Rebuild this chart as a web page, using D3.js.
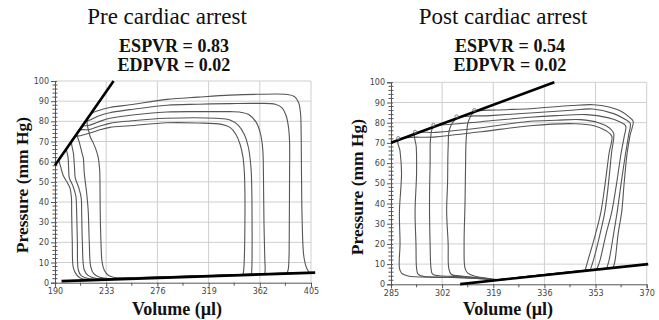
<!DOCTYPE html>
<meta charset="utf-8">
<script src="https://d3js.org/d3.v7.js"></script>
<style>
  body { margin: 0; background: #fff; }
  .tick text { font-family: "DejaVu Sans", sans-serif; font-size: 8px; fill: #444; }
  .ttl { font-family: "Liberation Serif", "Times New Roman", serif; fill: #111; text-anchor: middle; }
</style>
<body>
<div id="chart"></div>
<script>
// ---- data (volume in µl, pressure in mm Hg) ----
const preTicksX = [190, 233, 276, 319, 362, 405];
const postTicksX = [285, 302, 319, 336, 353, 370];
const ticksY = [0, 10, 20, 30, 40, 50, 60, 70, 80, 90, 100];

// pre cardiac arrest loops, outer to inner
const preLoop1 = [[403.5,5.2],[401.5,7],[399,13],[397.6,30],[397,55],[396.7,75],[396.2,84],[394.5,89.5],[391,92.3],[385,93.3],[360,93.4],[337,93],[310,92],[284,90.9],[253,88.2],[236,86.9],[226,85.3],[220.5,83.8],[217.5,81.3],[217,78.5],[218,76],[219.5,72.5],[222.2,69.2],[225,65],[226.4,61.8],[227.5,56],[227.8,48],[228,34.5],[228.6,20],[229.6,10],[231.5,6],[235,3.6],[240,2.6],[246,2.3],[270,2.6],[310,3.3],[350,4.2],[380,4.7],[403.5,5.2]];
const preLoop2 = [[385,4.8],[386,7],[386.5,12],[386.8,30],[387,55],[387,70],[386,77.5],[384,83],[380.5,86.8],[375,88.5],[360,88.9],[337,88.8],[310,88.5],[284,88],[253,85.8],[236,84.3],[226,82.5],[220,80.8],[215.5,79.6],[212,76.9],[208.5,73.9],[210.5,69.5],[212.8,64],[213.8,61.8],[214.5,55],[215,52],[216.5,45],[217.6,38],[218,34.5],[218.8,20],[220,8],[222.5,4.5],[227,2.8],[234.5,2.1],[260,2.4],[300,3.1],[340,3.9],[385,4.8]];
const preLoop3 = [[366.3,4.3],[366.5,7],[366.2,12],[365.5,30],[365.2,45],[365,56],[364.5,66],[362.5,74],[359,79.5],[353,83.3],[345,84.6],[337,84.8],[310,84.8],[284,84.6],[253,83],[236,81.5],[226,79.6],[218,77.9],[213,77.6],[208,73.5],[204,70.1],[205.5,64],[206.5,56],[207,52],[210,47],[212,42],[212.4,34.5],[213,20],[214.6,6.3],[218,3.5],[225,2.1],[260,2.6],[300,3.3],[340,3.9],[366.3,4.3]];
const preLoop4 = [[355,4.1],[355.3,7],[355.5,12],[355.5,30],[355.3,45],[354.6,57],[352.3,67.4],[349,73.5],[344,78],[337,80.7],[325,81.5],[284,81.5],[253,80.2],[236,79],[226,77.3],[218,75.8],[213.5,75.9],[210.5,75.5],[206,71.8],[202,68.4],[199.8,66.5],[201,62],[201.5,56],[202,52],[205,48],[207.5,43],[208.2,34.5],[208.8,20],[209.6,6.3],[212,3.5],[219.4,1.9],[260,2.5],[300,3.2],[330,3.7],[355,4.1]];
const preLoop5 = [[348,4],[348.5,6.5],[349,12],[349.5,30],[349.5,45],[349,55],[347.8,62.5],[345.5,68.5],[342,73.5],[337,77],[330,78.5],[310,79.2],[284,79.3],[253,77.8],[236,77],[226,75.5],[218,74],[212,73],[206.5,72.2],[200,66.7],[193.5,61.2],[195,57],[197,53],[200,50],[202.5,47],[203.8,42],[204,34.5],[204.5,20],[205.2,8],[207,5],[210,2.8],[213.5,1.8],[250,2.3],[300,3.1],[348,4]];
const preLoops = [preLoop1, preLoop2, preLoop3, preLoop4, preLoop5];
const preEspvr = [[190, 58.2], [239.2, 100]];
const preEdpvr = [[195.5, 0.8], [408.5, 5.0]];

// post cardiac arrest loops, outer to inner
const postLoopE = [[358.9,8.3],[359.5,12],[360.5,25],[361.7,36],[362.5,50],[363.5,65],[364.5,74],[365.5,80.7],[364,83],[361,86],[357.5,87.8],[352.3,88.9],[345,88.5],[331.2,86.9],[320,86.3],[312.7,85.3],[310.8,81],[310,72],[309.8,60],[309.6,40],[309.3,20],[309.6,8],[310.5,5.5],[313,4],[318,2.8],[321,2.3],[330,3.9],[340,5.5],[350,7],[358.9,8.3]];
const postLoopD = [[356.7,7.9],[357.5,12],[359,25],[360.2,36],[361.5,50],[363,65],[364,74],[364.5,79.8],[362.5,82],[359,84.5],[352,86.8],[345,86.2],[331.2,84.8],[318,83.5],[306.8,82.1],[304.5,77],[304,68],[303.8,50],[303.5,36],[304,20],[304.2,8],[305,5],[309,4],[315,3],[320,2.3],[330,3.8],[340,5.4],[356.7,7.9]];
const postLoopC = [[353.4,7.3],[354.5,12],[356.5,25],[358.4,36],[360,50],[361.5,65],[362.5,73],[363,78.5],[361,80.5],[357,82.5],[350,84],[340,83.5],[331.2,82.7],[315,80.5],[305,79.2],[299.1,77.9],[298.2,73],[298,60],[297.8,40],[298,20],[298.3,8],[298.8,5],[301,4.2],[308,3.8],[315,3.2],[320,2.3],[330,3.8],[340,5.3],[353.4,7.3]];
const postLoopB = [[351.2,7],[352.3,12],[354.5,25],[356.1,36],[357.3,50],[358.3,65],[359,74.8],[357.5,77.5],[354,80],[348,81.5],[340,81.2],[331.2,80.7],[315,77.5],[300,75.2],[293,74.5],[293.4,68],[293.5,55],[293,36],[293.3,20],[293.5,8],[294,5],[296,3.8],[305,3.4],[314,3],[319,2.2],[330,3.8],[340,5.3],[351.2,7]];
const postLoopA = [[349.5,6.7],[350.5,12],[353,25],[354.8,36],[356.2,50],[357.5,65],[358.4,73.3],[356.5,76],[352.5,78.5],[346,79.5],[331.2,78.5],[315,75.5],[300,73],[287.4,71.4],[288,66],[288.5,55],[287.8,36],[288,20],[287.8,8],[288.5,5.5],[291,4],[300,3.6],[310,3.2],[316,2.6],[319,1.9],[330,3.8],[340,5.4],[349.5,6.7]];
const postLoops = [postLoopE, postLoopD, postLoopC, postLoopB, postLoopA];
const postEspvr = [[285, 70.1], [339.3, 100]];
const postEdpvr = [[308, 0.1], [370.5, 10]];
const postEspvrMarks = [[287.4,71.4],[293,74.5],[299.1,77.9],[306.8,82.1],[312.7,85.3]];

const width = 659, height = 320;

const svg = d3.select("#chart").append("svg")
  .attr("width", width)
  .attr("height", height)
  .style("background", "#fff");

function drawPanel(p) {
  const x = d3.scaleLinear().domain(p.xDomain).range(p.xRange);
  const y = d3.scaleLinear().domain([0, 100]).range(p.yRange);
  const g = svg.append("g");

  // minor ticks between the labelled ones
  const minorX = [];
  for (let i = 0; i < p.ticksX.length - 1; i++) minorX.push((p.ticksX[i] + p.ticksX[i + 1]) / 2);
  const minorY = d3.range(0, 101, 2).filter(d => d % 10 != 0);

  // grid
  g.selectAll(".gx").data(p.ticksX.slice(1)).join("line")
    .attr("x1", d => x(d)).attr("x2", d => x(d))
    .attr("y1", y(0)).attr("y2", y(100))
    .attr("stroke", "#cfcfcf");
  g.selectAll(".gy").data(ticksY.slice(1)).join("line")
    .attr("x1", x(p.xDomain[0])).attr("x2", x(p.xDomain[1]))
    .attr("y1", d => y(d)).attr("y2", d => y(d))
    .attr("stroke", "#cfcfcf");

  // axes
  const ax = g.append("g").attr("transform", `translate(0,${y(0)})`)
    .call(d3.axisBottom(x).tickValues(p.ticksX).tickSize(4).tickPadding(2).tickFormat(d3.format("d")));
  ax.append("g").selectAll("line").data(minorX).join("line")
    .attr("x1", d => x(d)).attr("x2", d => x(d)).attr("y1", 0).attr("y2", 3)
    .attr("stroke", "#555");
  const ay = g.append("g").attr("transform", `translate(${x(p.xDomain[0])},0)`)
    .call(d3.axisLeft(y).tickValues(ticksY).tickSize(4).tickPadding(2));
  ay.append("g").selectAll("line").data(minorY).join("line")
    .attr("x1", -2.5).attr("x2", 2.5).attr("y1", d => y(d)).attr("y2", d => y(d))
    .attr("stroke", "#555");
  ay.selectAll(".tick line").attr("x2", -4).attr("x1", 2);
  g.selectAll(".domain").attr("stroke", "#555");
  g.selectAll(".tick line").attr("stroke", "#555");

  // loops
  const line = d3.line().x(d => x(d[0])).y(d => y(d[1])).curve(d3.curveCatmullRom.alpha(0.5));
  g.selectAll(".loop").data(p.loops).join("path")
    .attr("d", line)
    .attr("fill", "none")
    .attr("stroke", "#555")
    .attr("stroke-width", 1.1);

  // ESPVR / EDPVR fits
  const straight = d3.line().x(d => x(d[0])).y(d => y(d[1]));
  [p.espvr, p.edpvr].forEach(l => {
    g.append("path").attr("d", straight(l))
      .attr("stroke", "#000").attr("stroke-width", 2.6).attr("fill", "none");
  });
  if (p.marks) {
    g.selectAll(".mk").data(p.marks).join("circle")
      .attr("cx", d => x(d[0])).attr("cy", d => y(d[1]) - 2).attr("r", 1.6)
      .attr("fill", "none").attr("stroke", "#666").attr("stroke-width", 0.8);
  }

  // texts
  svg.append("text").attr("class", "ttl").attr("x", p.titleX).attr("y", 24)
    .style("font-size", "23px").text(p.title);
  svg.append("text").attr("class", "ttl").attr("x", p.subX).attr("y", 52)
    .style("font-size", "18px").style("font-weight", "bold").text(p.es);
  svg.append("text").attr("class", "ttl").attr("x", p.subX).attr("y", 71)
    .style("font-size", "18px").style("font-weight", "bold").text(p.ed);
  svg.append("text").attr("class", "ttl")
    .attr("transform", `translate(${p.yLabX},${p.yLabY}) rotate(-90)`)
    .style("font-size", "17.5px").style("font-weight", "bold").text("Pressure (mm Hg)");
  svg.append("text").attr("class", "ttl").attr("x", p.xLabX).attr("y", 315)
    .style("font-size", "18px").style("font-weight", "bold").text("Volume (µl)");
}

drawPanel({
  xDomain: [190, 405], xRange: [55, 311], yRange: [282.7, 81],
  ticksX: preTicksX, loops: preLoops, espvr: preEspvr, edpvr: preEdpvr,
  title: "Pre cardiac arrest", titleX: 167, subX: 174,
  es: "ESPVR = 0.83", ed: "EDPVR = 0.02",
  yLabX: 28, yLabY: 185, xLabX: 177
});
drawPanel({
  xDomain: [285, 370], xRange: [391, 646.7], yRange: [284.3, 82.3],
  ticksX: postTicksX, loops: postLoops, espvr: postEspvr, edpvr: postEdpvr,
  marks: postEspvrMarks,
  title: "Post cardiac arrest", titleX: 503, subX: 510,
  es: "ESPVR = 0.54", ed: "EDPVR = 0.02",
  yLabX: 363, yLabY: 187, xLabX: 508
});
</script>
</body>
